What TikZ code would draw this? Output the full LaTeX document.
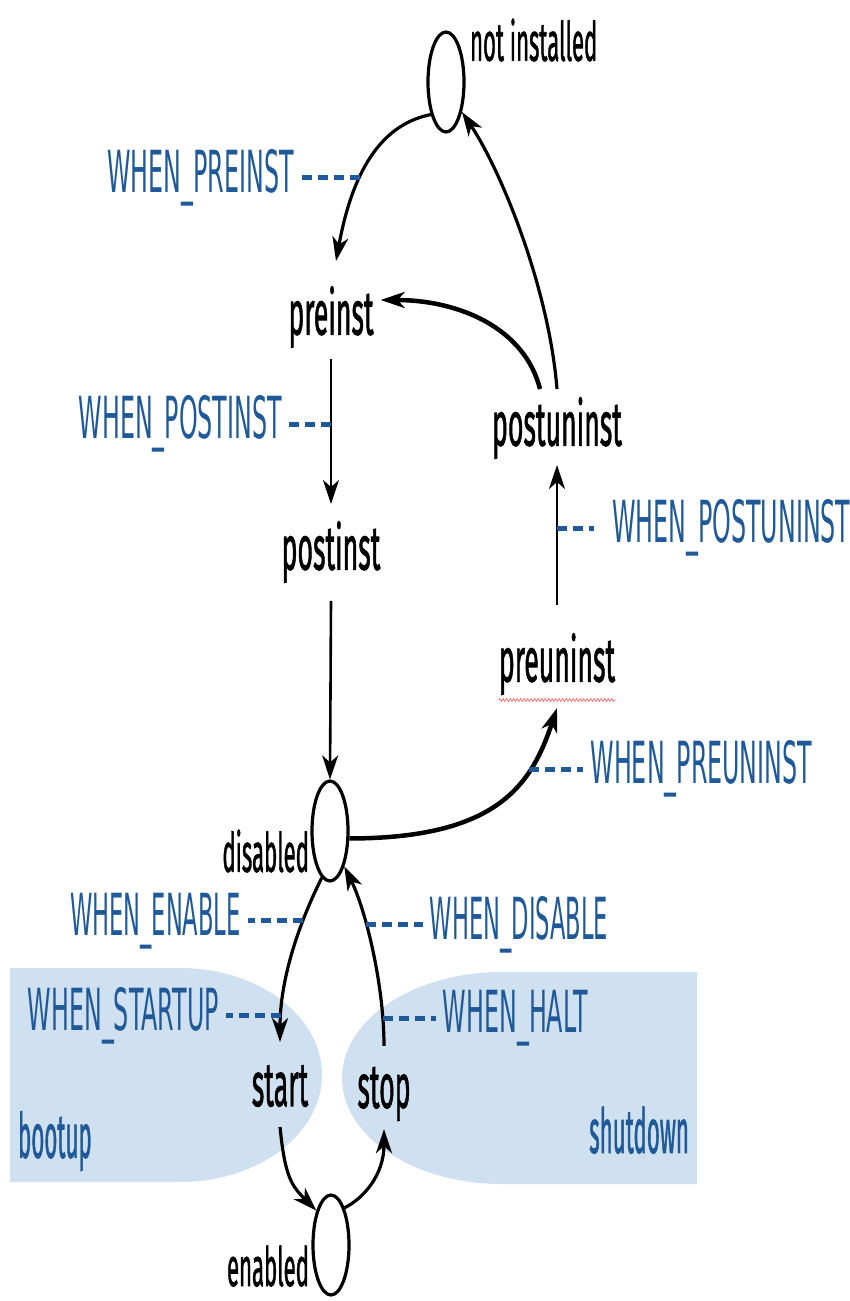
\documentclass[tikz,border=0pt]{standalone}
\usepackage{fontspec}
\usepackage{tikz}
\usetikzlibrary{calc}
\usetikzlibrary{arrows.meta}
\usetikzlibrary{shapes.geometric}
\usetikzlibrary{decorations.pathmorphing}
\usetikzlibrary{positioning}
\newfontfamily\handfont[FakeBold=1.6]{Fira Sans}
\newfontfamily\evfont{DejaVu Sans}
\definecolor{evblue}{RGB}{31,89,151}
\definecolor{regblue}{RGB}{207,224,241}
\tikzset{dot/.style={ellipse,draw=black,line width=3.2pt,minimum width=36pt,minimum height=100pt,inner sep=0pt}}
\tikzset{state/.style={font=\handfont\fontsize{62}{62}\selectfont,xscale=0.43,inner sep=0pt}}
\tikzset{lbl/.style={font=\handfont\fontsize{54}{54}\selectfont,xscale=0.41,inner sep=0pt}}
\tikzset{reglbl/.style={font=\handfont\fontsize{62}{62}\selectfont,text=evblue,xscale=0.36,inner sep=0pt}}
\tikzset{ev/.style={font=\evfont\fontsize{58}{58}\selectfont,text=evblue,xscale=0.41,inner sep=0pt}}
\tikzset{trans/.style={draw=black,line width=3.2pt,-{Stealth[length=24pt,width=16pt,inset=7pt]}}}
\tikzset{evdash/.style={draw=evblue,line width=5pt,dash pattern=on 10pt off 6pt,shorten >=7pt}}
\begin{document}
\begin{tikzpicture}[x=1pt,y=-1pt]
  \useasboundingbox (0,0) rectangle (849,1301);
  % bootup and shutdown areas
  \fill[regblue] (10,968) -- (180,968) arc[start angle=-90,end angle=90,x radius=142,y radius=107] -- (10,1182) -- cycle;
  \fill[regblue] (697,972) -- (502,972) arc[start angle=-90,end angle=-270,x radius=160,y radius=106] -- (697,1184) -- cycle;

  % states
  \node[dot] (notinst) at (446,82) {};
  \node[lbl,anchor=west] (lNotinst) at (470,40) {not installed};
  \node[state] (preinst) at (331,317) {preinst};
  \node[state] (postinst) at (331,552) {postinst};
  \node[state] (postuninst) at (557,428) {postuninst};
  \node[state] (preuninst) at (557,664) {preuninst};
  \node[dot] (disabled) at (330,831) {};
  \node[lbl,anchor=east] (lDisabled) at (309,851) {disabled};
  \node[dot] (enabled) at (331,1245) {};
  \node[lbl,anchor=east] (lEnabled) at (309,1266) {enabled};
  \node[state] (start) at (280,1086) {start};
  \node[state] (stop) at (384,1094) {stop};
  \node[reglbl,anchor=west] (bootup) at (18,1141) {bootup};
  \node[reglbl,anchor=east] (shutdown) at (689,1130) {shutdown};
  \draw[red!65,line width=0.6pt,decorate,decoration={zigzag,amplitude=1.5pt,segment length=3.5pt}]
    ([yshift=-5pt]preuninst.south west) -- ([yshift=-5pt]preuninst.south east);

  % transitions
  \draw[trans] (notinst.-115) .. controls +(-62,12) and +(12,-65) .. ([xshift=5pt,yshift=25pt]preinst.north) coordinate[pos=0.56] (dPre);
  \draw[trans,line width=4.5pt] ([xshift=-17pt,yshift=8pt]postuninst.north) .. controls +(-15,-60) and +(80,0) .. ([xshift=7pt,yshift=17pt]preinst.east);
  \draw[trans] ([yshift=8pt]postuninst.north) .. controls +(-8,-100) and +(40,60) .. (notinst.-62);
  \draw[trans,line width=2.6pt] ([yshift=-11pt]preinst.south) -- ([yshift=17pt]postinst.north) coordinate[pos=0.45] (dPost);
  \draw[trans,line width=2.6pt] ([yshift=-18pt]postinst.south) -- (disabled.north);
  \draw[trans,line width=4.5pt] (disabled.-21) .. controls +(150,0) and +(-25,75) .. ([yshift=-13pt]preuninst.south) coordinate[pos=0.7] (dPreun);
  \draw[trans,line width=2.8pt] ([yshift=28pt]preuninst.north) -- ([yshift=-6pt]postuninst.south) coordinate[pos=0.55] (dPostun);
  \draw[trans] (disabled.-100) .. controls +(-25,50) and +(0,-60) .. ([yshift=23pt]start.north) coordinate[pos=0.28] (dEn) coordinate[pos=0.85] (dSt);
  \draw[trans] ([yshift=21pt]stop.north) .. controls +(0,-60) and +(22,45) .. (disabled.-68) coordinate[pos=0.15] (dHalt) coordinate[pos=0.64] (dDis);
  \draw[trans] ([yshift=-20pt]start.south) .. controls +(5,50) and +(-25,-25) .. (enabled.113);
  \draw[trans] (enabled.70) .. controls +(20,-10) and +(0,45) .. ([yshift=-8pt]stop.south);

  % hooks
  \node[ev,left=66pt of dPre] (lPre) {WHEN\_PREINST};
  \node[ev,left=49pt of dPost] (lPost) {WHEN\_POSTINST};
  \node[ev,right=55pt of dPostun] (lPostun) {WHEN\_POSTUNINST};
  \node[ev,right=61pt of dPreun] (lPreun) {WHEN\_PREUNINST};
  \node[ev,left=62pt of dEn,xscale=0.95] (lEn) {WHEN\_ENABLE};
  \node[ev,right=64pt of dDis,xscale=0.95] (lDis) {WHEN\_DISABLE};
  \node[ev,left=62pt of dSt] (lSt) {WHEN\_STARTUP};
  \node[ev,right=60pt of dHalt] (lHalt) {WHEN\_HALT};
  \draw[evdash] (dPre) -- (lPre);
  \draw[evdash] (dPost) -- (lPost);
  \draw[evdash,shorten >=18pt] (dPostun) -- (lPostun);
  \draw[evdash] (dPreun) -- (lPreun);
  \draw[evdash] (dEn) -- (lEn);
  \draw[evdash] (dDis) -- (lDis);
  \draw[evdash] (dSt) -- (lSt);
  \draw[evdash] (dHalt) -- (lHalt);
\end{tikzpicture}
\end{document}
